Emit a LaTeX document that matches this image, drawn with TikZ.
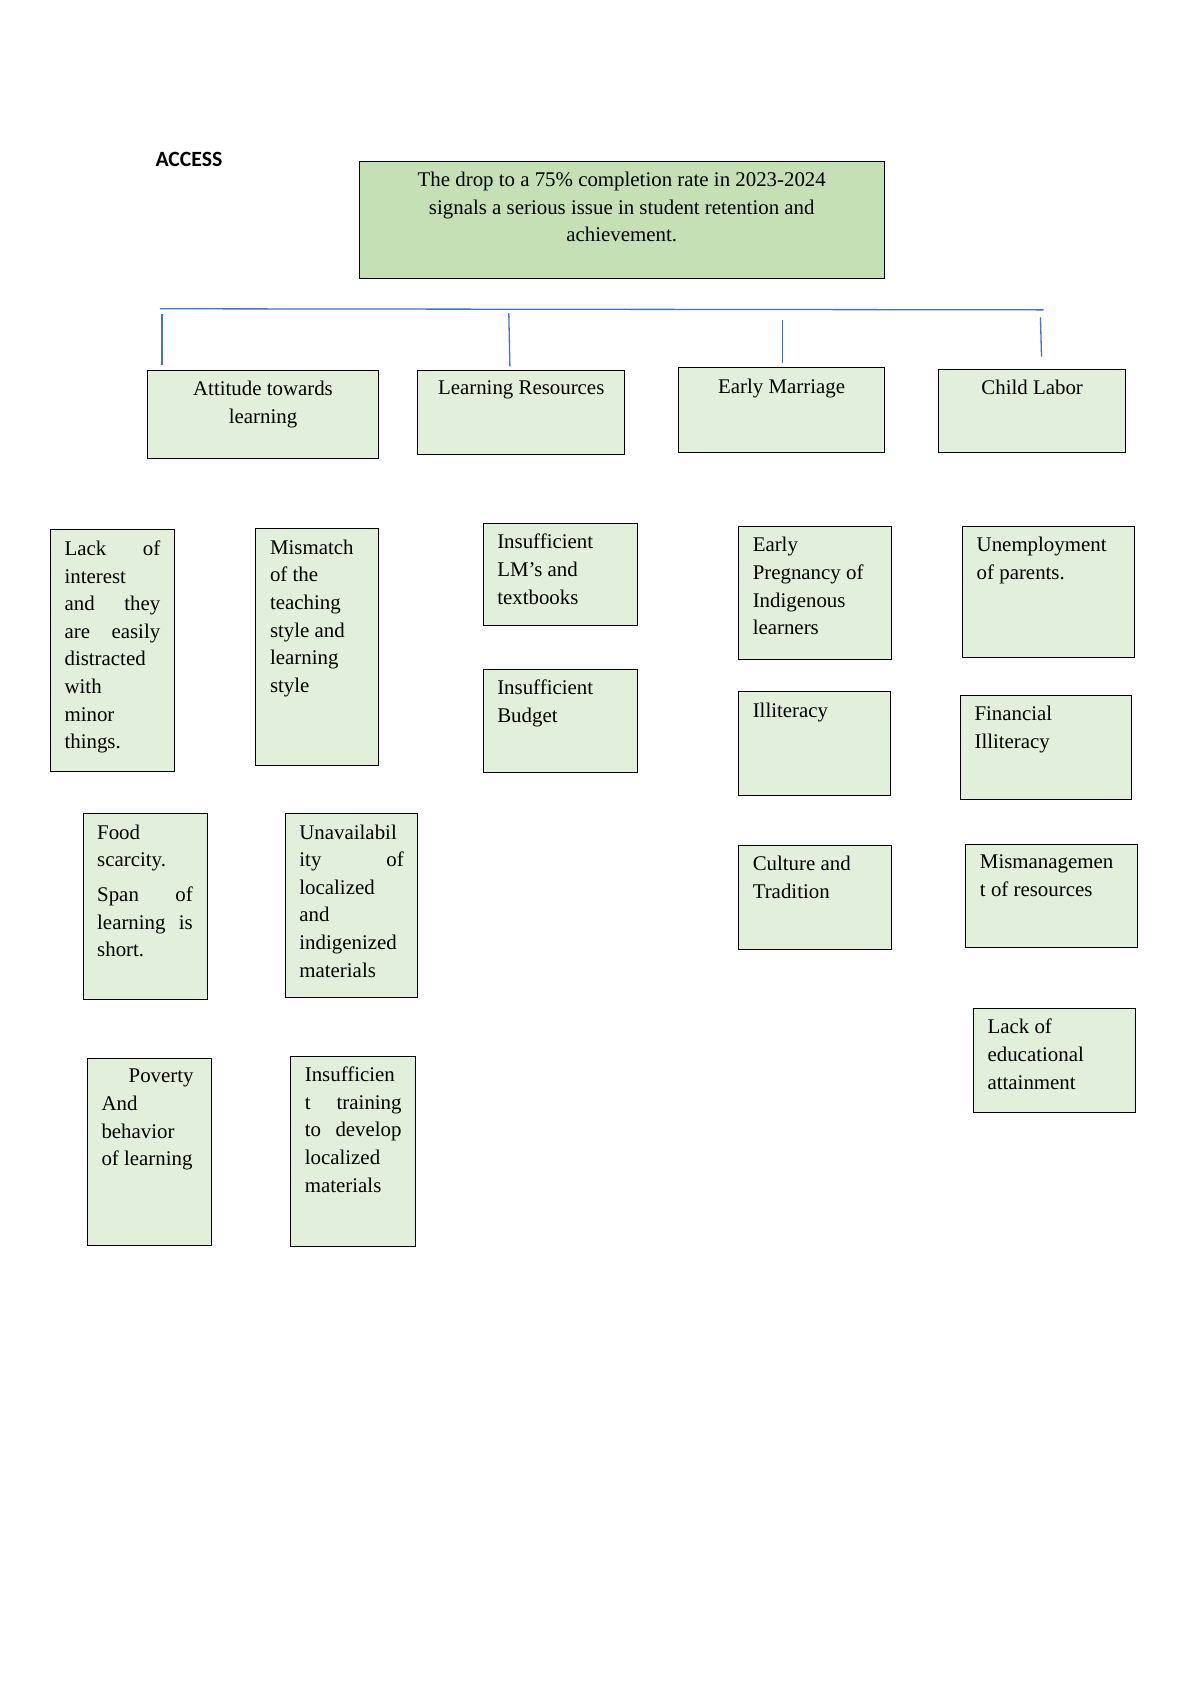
\documentclass[tikz,border=0pt]{standalone}
\usepackage{fontspec}
\setmainfont{Liberation Serif}
\newfontfamily\headfont{Carlito}
\definecolor{topgreen}{HTML}{C5E0B4}
\definecolor{boxgreen}{HTML}{E2EFDA}
\definecolor{barblue}{HTML}{4472C4}
\tikzset{
  cause/.style={draw=black, fill=boxgreen, inner xsep=6.5pt, inner ysep=5pt, font=\fontsize{9.6}{12.7}\selectfont},
  problem/.style={cause, fill=topgreen},
  bar/.style={draw=barblue, line width=0.6pt}
}
% box from its corners in page pixels
\newcommand\causebox[7][cause]{%
  \pgfmathsetmacro\bw{(#5-#3)*0.5-14}\pgfmathsetmacro\bh{(#6-#4)*0.5-11}%
  \node[#1, anchor=north west] (#2) at (#3,#4) {\parbox[t][\bh pt][t]{\bw pt}{#7}};}
\begin{document}
\begin{tikzpicture}[x=0.5pt, y=-0.5pt]
\useasboundingbox (0,0) rectangle (1103,1560);

\node[font=\headfont\bfseries\fontsize{10}{12}\selectfont, anchor=west] (access) at (136,147) {ACCESS};

\causebox[problem]{drop}{330}{148}{815}{258}{\centering The drop to a 75\% completion rate in 2023-2024\\ signals a serious issue in student retention and\\ achievement.}

% main causes
\causebox{attitude}{135}{340}{350}{423}{\centering Attitude towards\\ learning}
\causebox{resources}{384}{340}{576}{420}{\centering Learning Resources}
\causebox{marriage}{624}{338}{815}{418}{\centering Early Marriage}
\causebox{labor}{863}{339}{1037}{418}{\centering Child Labor}

% connectors
\coordinate (barL) at (147,284);
\coordinate (barR) at (960,285);
\coordinate (t1) at (149,289); \coordinate (b1) at (149,336);
\coordinate (t2) at (468,288); \coordinate (b2) at (469,337);
\coordinate (t3) at (720,294); \coordinate (b3) at (720,334);
\coordinate (t4) at (957,292); \coordinate (b4) at (958,328);
\draw[bar] (barL) -- (barR);
\foreach \i in {1,...,4} \draw[bar] (t\i) -- (b\i);

% attitude towards learning
\causebox{interest}{46}{487}{162}{711}{Lack\hfill of\\ interest\\ and\hfill they\\ are\hfill easily\\ distracted\\ with\\ minor\\ things.}
\causebox{mismatch}{235}{486}{350}{706}{Mismatch\\ of the\\ teaching\\ style and\\ learning\\ style}
\causebox{food}{76}{748}{192}{921}{Food\\ scarcity.\\[0.35em] Span\hfill of\\ learning\hfill is\\ short.}
\causebox{unavail}{262}{748}{386}{919}{Unavailabil\\ ity\hfill of\\ localized\\ and\\ indigenized\\ materials}
\causebox{poverty}{80}{973}{196}{1147}{\hspace*{1.3em}Poverty\\ And\\ behavior\\ of learning}
\causebox{training}{267}{971}{384}{1148}{Insufficien\\ t\hfill training\\ to\hfill develop\\ localized\\ materials}

% learning resources
\causebox{lms}{444}{481}{588}{577}{Insufficient\\ LM's and\\ textbooks}
\causebox{budget}{444}{615}{588}{712}{Insufficient\\ Budget}

% early marriage
\causebox{pregnancy}{679}{484}{822}{608}{Early\\ Pregnancy of\\ Indigenous\\ learners}
\causebox{illiteracy}{679}{636}{821}{733}{Illiteracy}
\causebox{culture}{679}{777}{822}{875}{Culture and\\ Tradition}

% child labor
\causebox{unemploy}{885}{484}{1045}{606}{Unemployment\\ of parents.}
\causebox{financial}{883}{639}{1042}{737}{Financial\\ Illiteracy}
\causebox{mismanage}{888}{776}{1048}{873}{Mismanagemen\\ t of resources}
\causebox{education}{895}{927}{1046}{1025}{Lack of\\ educational\\ attainment}
\end{tikzpicture}
\end{document}
